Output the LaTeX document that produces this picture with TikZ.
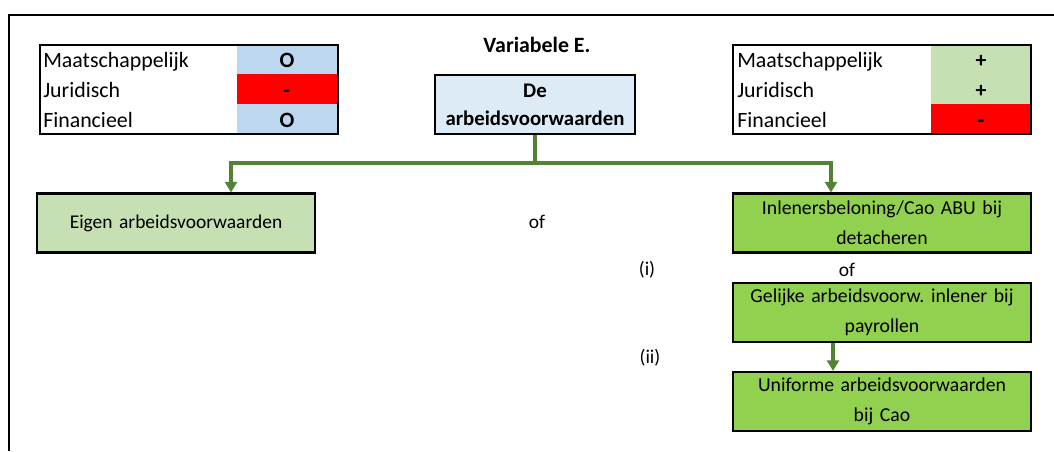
\documentclass[tikz,border=0pt]{standalone}
\usepackage{fontspec}
\setmainfont{Carlito}
\usetikzlibrary{arrows.meta}
\definecolor{lblue}{HTML}{BDD7EE}
\definecolor{pblue}{HTML}{DDEBF7}
\definecolor{lgreen}{HTML}{C6E0B4}
\definecolor{bgreen}{HTML}{92D050}
\definecolor{dgreen}{HTML}{548235}
\definecolor{xred}{HTML}{FF0000}
\frenchspacing
\tikzset{
  x=0.75pt, y=-0.75pt,
  every node/.style={font=\fontsize{14.6pt}{22.5pt}\selectfont, inner sep=0pt},
  box/.style={draw=black, line width=1.6pt, minimum width=298*0.75pt, minimum height=59*0.75pt, align=center, text width=292*0.75pt, font=\fontsize{14.8pt}{22.5pt}\selectfont},
  frame/.style={draw=black, line width=1.6pt},
  conn/.style={draw=dgreen, line width=2.6pt, -{Triangle[width=9pt,length=8pt]}},
  lbl/.style={anchor=base west, font=\fontsize{16.4pt}{20pt}\selectfont},
  val/.style={anchor=base, font=\fontsize{16.4pt}{20pt}\selectfont\bfseries},
}
\begin{document}
\begin{tikzpicture}
\useasboundingbox (0,0) rectangle (1054,451);
\fill[white] (0,0) rectangle (1054,451);
% open outer frame
\draw[frame] (9,451) -- (9,15) -- (1054,15);
% left table
\fill[lblue] (237,45) rectangle (337,74);
\fill[xred] (237,74) rectangle (337,104);
\fill[lblue] (237,104) rectangle (337,134);
\draw[frame] (40,45) rectangle (338,134);
\node[lbl] (l1) at (43,67) {Maatschappelijk};
\node[lbl] (l2) at (43,97) {Juridisch};
\node[lbl] (l3) at (43,127) {Financieel};
\node[val] (lv1) at (287,67) {O};
\node[val] (lv2) at (287,97) {-};
\node[val] (lv3) at (287,127) {O};
% right table
\fill[lgreen] (931,45) rectangle (1030,74);
\fill[lgreen] (931,74) rectangle (1030,104);
\fill[xred] (931,104) rectangle (1030,134);
\draw[frame] (733,45) rectangle (1031,134);
\node[lbl] (r1) at (737,67) {Maatschappelijk};
\node[lbl] (r2) at (737,97) {Juridisch};
\node[lbl] (r3) at (737,127) {Financieel};
\node[val] (rv1) at (981,67) {+};
\node[val] (rv2) at (981,97) {+};
\node[val] (rv3) at (981,127) {-};
% title
\node[val] (title) at (537,52) {Variabele E.};
\node[box, fill=pblue, minimum width=200*0.75pt, text width=196*0.75pt, font=\fontsize{15.6pt}{21pt}\selectfont\bfseries] (root) at (535,104.5) {De\\arbeidsvoorwaarden};
% level 2
\node[box, fill=lgreen, minimum width=278*0.75pt, text width=272*0.75pt, font=\fontsize{14.6pt}{22.5pt}\selectfont] (eigen) at (176,223) {Eigen arbeidsvoorwaarden};
\node (of1) at (537,222) {of};
\node[box, fill=bgreen] (inl) at (882,223) {Inlenersbeloning/Cao ABU bij\\detacheren};
\node (i) at (647,270) {(i)};
\node (of2) at (847,270) {of};
\node[box, fill=bgreen] (gel) at (882,312.5) {Gelijke arbeidsvoorw. inlener bij\\payrollen};
\node (ii) at (650,358) {(ii)};
\node[box, fill=bgreen] (uni) at (882,401.5) {Uniforme arbeidsvoorwaarden\\bij Cao};
% connectors
\coordinate (j) at (535,163);
\draw[draw=dgreen, line width=2.6pt] (root.south) -- (j);
\draw[conn] (j) -| ([xshift=55*0.75pt]eigen.north);
\draw[conn] (j) -| ([xshift=-51*0.75pt]inl.north);
\draw[conn] ([xshift=-49*0.75pt]gel.south) -- ([xshift=-49*0.75pt]uni.north);
\end{tikzpicture}
\end{document}
